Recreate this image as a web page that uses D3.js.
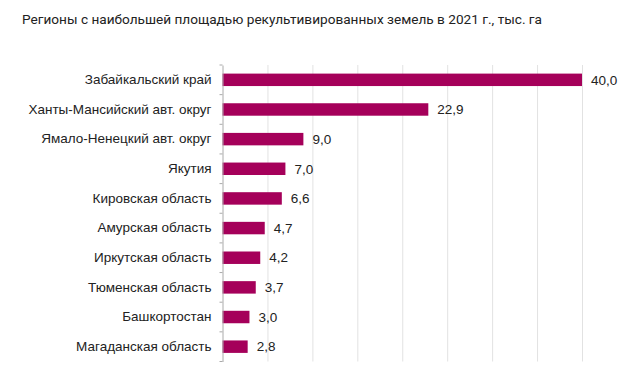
<!DOCTYPE html>
<html><head><meta charset="utf-8">
<script src="https://cdn.jsdelivr.net/npm/d3@7"></script>
<style>body{margin:0;background:#fff}</style>
</head><body>
<svg id="c" width="629" height="372"></svg>
<script>
const title = "Регионы с наибольшей площадью рекультивированных земель в 2021 г., тыс. га";
const categories = ["Забайкальский край","Ханты-Мансийский авт. округ","Ямало-Ненецкий авт. округ","Якутия","Кировская область","Амурская область","Иркутская область","Тюменская область","Башкортостан","Магаданская область"];
const values = [40.0,22.9,9.0,7.0,6.6,4.7,4.2,3.7,3.0,2.8];
const gridTicks = [5,10,15,20,25,30,35,40];

const svg = d3.select("#c");
svg.append("rect").attr("width",629).attr("height",372).attr("fill","#fff");
svg.append("text").attr("x",22).attr("y",23.5).text(title)
  .attr("font-family","Roboto, 'Open Sans', sans-serif").attr("font-size",13.5).attr("fill","#222")
  .attr("textLength",520).attr("lengthAdjust","spacingAndGlyphs");

const x = d3.scaleLinear().domain([0,40]).range([222.5,582]);
const y = d3.scaleBand().domain(categories).range([65,361.5]).paddingInner(0.58).paddingOuter(0.29);

svg.append("g").selectAll("line").data(gridTicks).join("line")
  .attr("x1",d=>x(d)+0.5).attr("x2",d=>x(d)+0.5).attr("y1",65).attr("y2",361.5)
  .attr("stroke","#e2e2e2").attr("stroke-width",1);

svg.append("g").selectAll("rect").data(values).join("rect")
  .attr("x",x(0)).attr("y",(d,i)=>y(categories[i]))
  .attr("width",d=>x(d)-x(0)).attr("height",y.bandwidth())
  .attr("fill","#a5005a");

const ax = svg.append("g").attr("transform",`translate(${x(0)},0)`)
  .call(d3.axisLeft(y).tickSize(0).tickPadding(11));
ax.select(".domain").attr("stroke","#aaa");
ax.selectAll("text").attr("font-family","'Liberation Sans', Arial, sans-serif").attr("font-size",13.5).attr("fill","#222");
const bounds = d3.range(categories.length+1).map(i=>y.range()[0]+i*y.step());
svg.append("g").selectAll("line").data(bounds).join("line")
  .attr("x1",x(0)-3).attr("x2",x(0)).attr("y1",d=>d).attr("y2",d=>d)
  .attr("stroke","#aaa");

svg.append("g").selectAll("text").data(values).join("text")
  .attr("x",d=>x(d)+9).attr("y",(d,i)=>y(categories[i])+y.bandwidth()/2)
  .attr("dy","0.35em").text(d=>d.toFixed(1).replace(".",","))
  .attr("font-family","'Liberation Sans', Arial, sans-serif").attr("font-size",13.5).attr("fill","#222");
</script>
</body></html>
